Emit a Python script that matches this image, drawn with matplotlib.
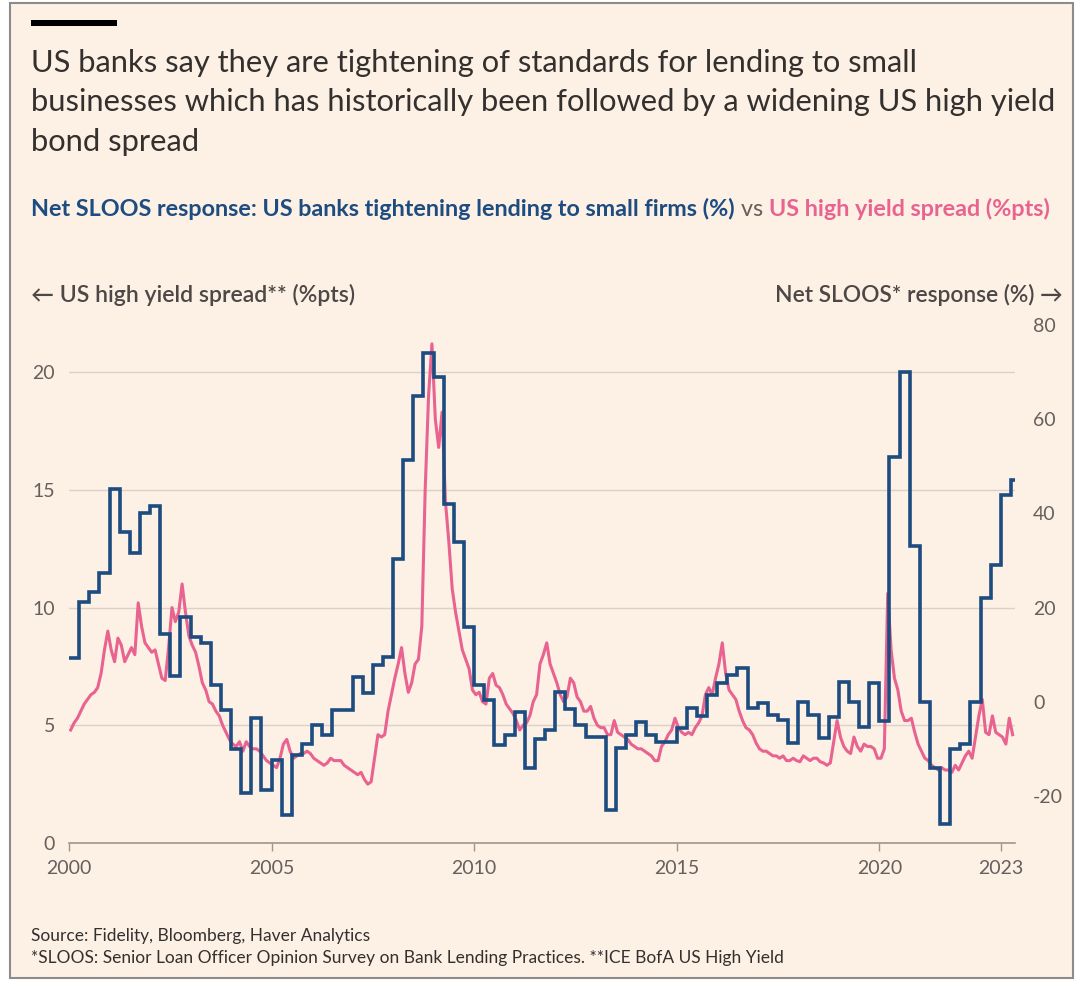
import matplotlib

matplotlib.use("Agg")
import matplotlib.pyplot as plt
from matplotlib.patches import Rectangle
import numpy as np

plt.rcParams["font.family"] = ["Lato", "DejaVu Sans"]
plt.rcParams["axes.unicode_minus"] = False

BG = "#fdf0e5"
BLUE = "#1d4c80"
PINK = "#e8638f"
INK = "#33302e"
GREY = "#66605c"
AXIS = "#a0968e"
GRID = "#dbd1c7"

W, H = 1079, 983

# Net % of banks tightening C&I standards for small firms, quarterly from 2000 Q1
sloos = [
    9.3, 21.2, 23.3, 27.3,      # 2000
    45.2, 36.0, 31.6, 40.0,     # 2001
    41.5, 14.4, 5.5, 18.0,      # 2002
    13.7, 12.5, 3.5, -1.8,      # 2003
    -10.0, -19.4, -3.5, -18.8,  # 2004
    -12.4, -24.0, -11.3, -9.0,  # 2005
    -5.0, -7.0, -1.8, -1.8,     # 2006
    5.3, 1.9, 7.8, 9.5,         # 2007
    30.3, 51.3, 65.0, 74.0,     # 2008
    69.0, 42.0, 34.0, 15.9,     # 2009
    3.5, 0.4, -9.2, -7.0,       # 2010
    -2.2, -14.0, -8.0, -6.0,    # 2011
    2.0, -1.5, -5.0, -7.5,      # 2012
    -7.5, -23.0, -9.8, -7.0,    # 2013
    -4.3, -7.0, -8.6, -8.6,     # 2014
    -5.6, -1.3, -3.0, 1.4,      # 2015
    4.0, 5.7, 7.2, -1.3,        # 2016
    -0.3, -2.8, -3.9, -8.8,     # 2017
    0.0, -2.8, -7.7, -3.2,      # 2018
    4.2, 0.0, -5.4, 4.0,        # 2019
    -4.0, 52.0, 70.0, 33.0,     # 2020
    0.0, -14.0, -26.0, -10.0,   # 2021
    -9.0, 0.0, 22.0, 29.0,      # 2022
    44.0, 47.0,                 # 2023
]

# ICE BofA US High Yield option-adjusted spread, monthly from Jan 2000 (%pts)
hy_2000 = [4.8, 5.1, 5.3, 5.6, 5.9, 6.1, 6.3, 6.4, 6.6, 7.2, 8.2, 9.0]
hy_2001 = [8.2, 7.7, 8.7, 8.4, 7.7, 8.0, 8.3, 8.0, 10.2, 9.2, 8.5, 8.3]
hy_2002 = [8.1, 8.2, 7.6, 7.0, 6.9, 8.3, 10.0, 9.4, 9.8, 11.0, 9.8, 8.8]
hy_2003 = [8.4, 8.1, 7.5, 6.8, 6.5, 6.0, 5.9, 5.6, 5.4, 5.0, 4.7, 4.4]
hy_2004 = [4.2, 4.1, 4.3, 3.9, 4.3, 4.1, 4.0, 4.0, 3.9, 3.7, 3.5, 3.4]
hy_2005 = [3.3, 3.2, 3.6, 4.2, 4.4, 3.9, 3.6, 3.7, 3.8, 3.8, 3.9, 3.8]
hy_2006 = [3.6, 3.5, 3.4, 3.3, 3.4, 3.6, 3.5, 3.5, 3.5, 3.3, 3.2, 3.1]
hy_2007 = [3.0, 2.9, 3.0, 2.7, 2.5, 2.6, 3.6, 4.6, 4.5, 4.6, 5.6, 6.3]
hy_2008 = [7.0, 7.6, 8.3, 7.2, 6.4, 6.8, 7.6, 7.8, 9.2, 15.0, 19.0, 21.2]
hy_2009 = [18.0, 16.8, 18.3, 14.5, 12.8, 10.8, 9.8, 9.0, 8.2, 7.8, 7.4, 6.5]
hy_2010 = [6.3, 6.4, 6.0, 5.9, 7.0, 7.2, 6.7, 6.6, 6.3, 5.9, 5.7, 5.5]
hy_2011 = [5.2, 4.8, 5.0, 5.1, 5.4, 6.0, 6.3, 7.6, 8.0, 8.5, 7.6, 7.2]
hy_2012 = [6.8, 6.3, 6.0, 6.2, 7.0, 6.8, 6.2, 6.0, 5.6, 5.6, 5.8, 5.3]
hy_2013 = [5.0, 4.9, 4.9, 4.6, 4.6, 5.2, 4.7, 4.6, 4.5, 4.4, 4.2, 4.1]
hy_2014 = [4.0, 4.0, 3.9, 3.8, 3.7, 3.5, 3.5, 4.1, 4.3, 4.6, 4.8, 5.3]
hy_2015 = [4.9, 4.7, 4.6, 4.7, 4.6, 4.9, 5.1, 5.4, 6.3, 6.6, 6.3, 7.0]
hy_2016 = [7.6, 8.5, 7.2, 6.5, 6.3, 6.1, 5.6, 5.2, 4.9, 4.8, 4.6, 4.25]
hy_2017 = [4.0, 3.9, 3.9, 3.8, 3.7, 3.7, 3.6, 3.7, 3.5, 3.5, 3.6, 3.5]
hy_2018 = [3.45, 3.7, 3.6, 3.5, 3.6, 3.6, 3.45, 3.4, 3.3, 3.4, 4.3, 5.2]
hy_2019 = [4.5, 4.1, 3.9, 3.8, 4.5, 4.1, 3.9, 4.2, 4.1, 4.1, 4.0, 3.6]
hy_2020 = [3.6, 4.0, 10.6, 8.2, 7.0, 6.5, 5.6, 5.2, 5.2, 5.3, 4.7, 4.2]
hy_2021 = [3.9, 3.6, 3.5, 3.3, 3.2, 3.1, 3.2, 3.1, 3.1, 3.0, 3.3, 3.1]
hy_2022 = [3.4, 3.7, 3.9, 3.6, 4.5, 5.4, 6.1, 4.7, 4.6, 5.4, 4.7, 4.6]
hy_2023 = [4.5, 4.2, 5.3, 4.6]

hy = (hy_2000 + hy_2001 + hy_2002 + hy_2003 + hy_2004 + hy_2005 + hy_2006
      + hy_2007 + hy_2008 + hy_2009 + hy_2010 + hy_2011 + hy_2012 + hy_2013
      + hy_2014 + hy_2015 + hy_2016 + hy_2017 + hy_2018 + hy_2019 + hy_2020
      + hy_2021 + hy_2022 + hy_2023)

year_ticks = [2000, 2005, 2010, 2015, 2020, 2023]
spread_ticks = [0, 5, 10, 15, 20]
sloos_ticks = [-20, 0, 20, 40, 60, 80]

# decimal-year time axes: survey quarters and mid-month spread readings
q_edges = 2000 + np.arange(len(sloos) + 1) / 4
hy_t = 2000 + (np.arange(len(hy)) + 0.5) / 12


def fx(px):
    return px / W


def fy(px):
    return 1 - px / H


fig = plt.figure(figsize=(W / 100, H / 100), dpi=100)
fig.patch.set_facecolor("white")
fig.patches.append(Rectangle((fx(10), fy(978)), fx(1073) - fx(10), fy(3) - fy(978),
                             transform=fig.transFigure, facecolor=BG,
                             edgecolor="#8c8c8c", lw=1.5, zorder=-10))
fig.patches.append(Rectangle((fx(31), fy(26)), fx(117) - fx(31), fy(20) - fy(26),
                             transform=fig.transFigure, facecolor="black",
                             edgecolor="none", zorder=-5))

title_lines = [
    "US banks say they are tightening of standards for lending to small",
    "businesses which has historically been followed by a widening US high yield",
    "bond spread",
]
for i, line in enumerate(title_lines):
    fig.text(fx(31), fy(72 + 39.5 * i), line, fontsize=22.2, color=INK, va="baseline")

# coloured subtitle doubling as the legend
SUB = 16.8
sub = fig.text(fx(31), fy(216), "Net SLOOS response: US banks tightening lending to small firms (%)",
               fontsize=SUB, fontweight="bold", color=BLUE, va="baseline")
fig.canvas.draw()
x_end = sub.get_window_extent().x1
vs = fig.text(x_end / W, fy(216), " vs ", fontsize=SUB, color=GREY, va="baseline")
fig.canvas.draw()
x_end = vs.get_window_extent().x1
fig.text(x_end / W, fy(216), "US high yield spread (%pts)", fontsize=SUB,
         fontweight="bold", color=PINK, va="baseline")

fig.text(fx(31), fy(302), "\u2190 US high yield spread** (%pts)", fontsize=16.6,
         fontweight="semibold", color="#4d4845", va="baseline")
fig.text(fx(1063), fy(302), "Net SLOOS* response (%) \u2192", fontsize=16.4,
         fontweight="semibold", color="#4d4845", va="baseline", ha="right")

ax = fig.add_axes([fx(69), fy(843), fx(1015) - fx(69), fy(325) - fy(843)])
ax.set_facecolor("none")
ax2 = ax.twinx()

ax.plot(hy_t, hy, color=PINK, lw=2.2, solid_joinstyle="round")
ax2.stairs(sloos, q_edges, color=BLUE, lw=2.6, baseline=None)

ax.set_xlim(2000, 2023.35)
ax.set_ylim(0, 22)
ax2.set_ylim(-30, 80)

ax.set_xticks(year_ticks)
ax.set_xticklabels([str(y) for y in year_ticks])
ax.set_yticks(spread_ticks)
ax2.set_yticks(sloos_ticks)

for a in (ax, ax2):
    for s in a.spines.values():
        s.set_visible(False)
ax.spines["bottom"].set_visible(True)
ax.spines["bottom"].set_color(AXIS)
ax.spines["bottom"].set_linewidth(1.2)

ax.yaxis.grid(True, color=GRID, lw=1.0)
ax.set_axisbelow(True)
ax.tick_params(axis="x", length=6, width=1, color=AXIS, pad=6, labelsize=14, labelcolor=GREY)
ax.tick_params(axis="y", length=0, pad=10, labelsize=14, labelcolor=GREY)
ax2.tick_params(axis="y", length=0, pad=13, labelsize=14, labelcolor=GREY)

fig.text(fx(31), fy(941), "Source: Fidelity, Bloomberg, Haver Analytics",
         fontsize=12.5, color=INK, va="baseline")
fig.text(fx(31), fy(963),
         "*SLOOS: Senior Loan Officer Opinion Survey on Bank Lending Practices. "
         "**ICE BofA US High Yield", fontsize=12.5, color=INK, va="baseline")

fig.savefig("out.png", dpi=100, facecolor=fig.get_facecolor())
